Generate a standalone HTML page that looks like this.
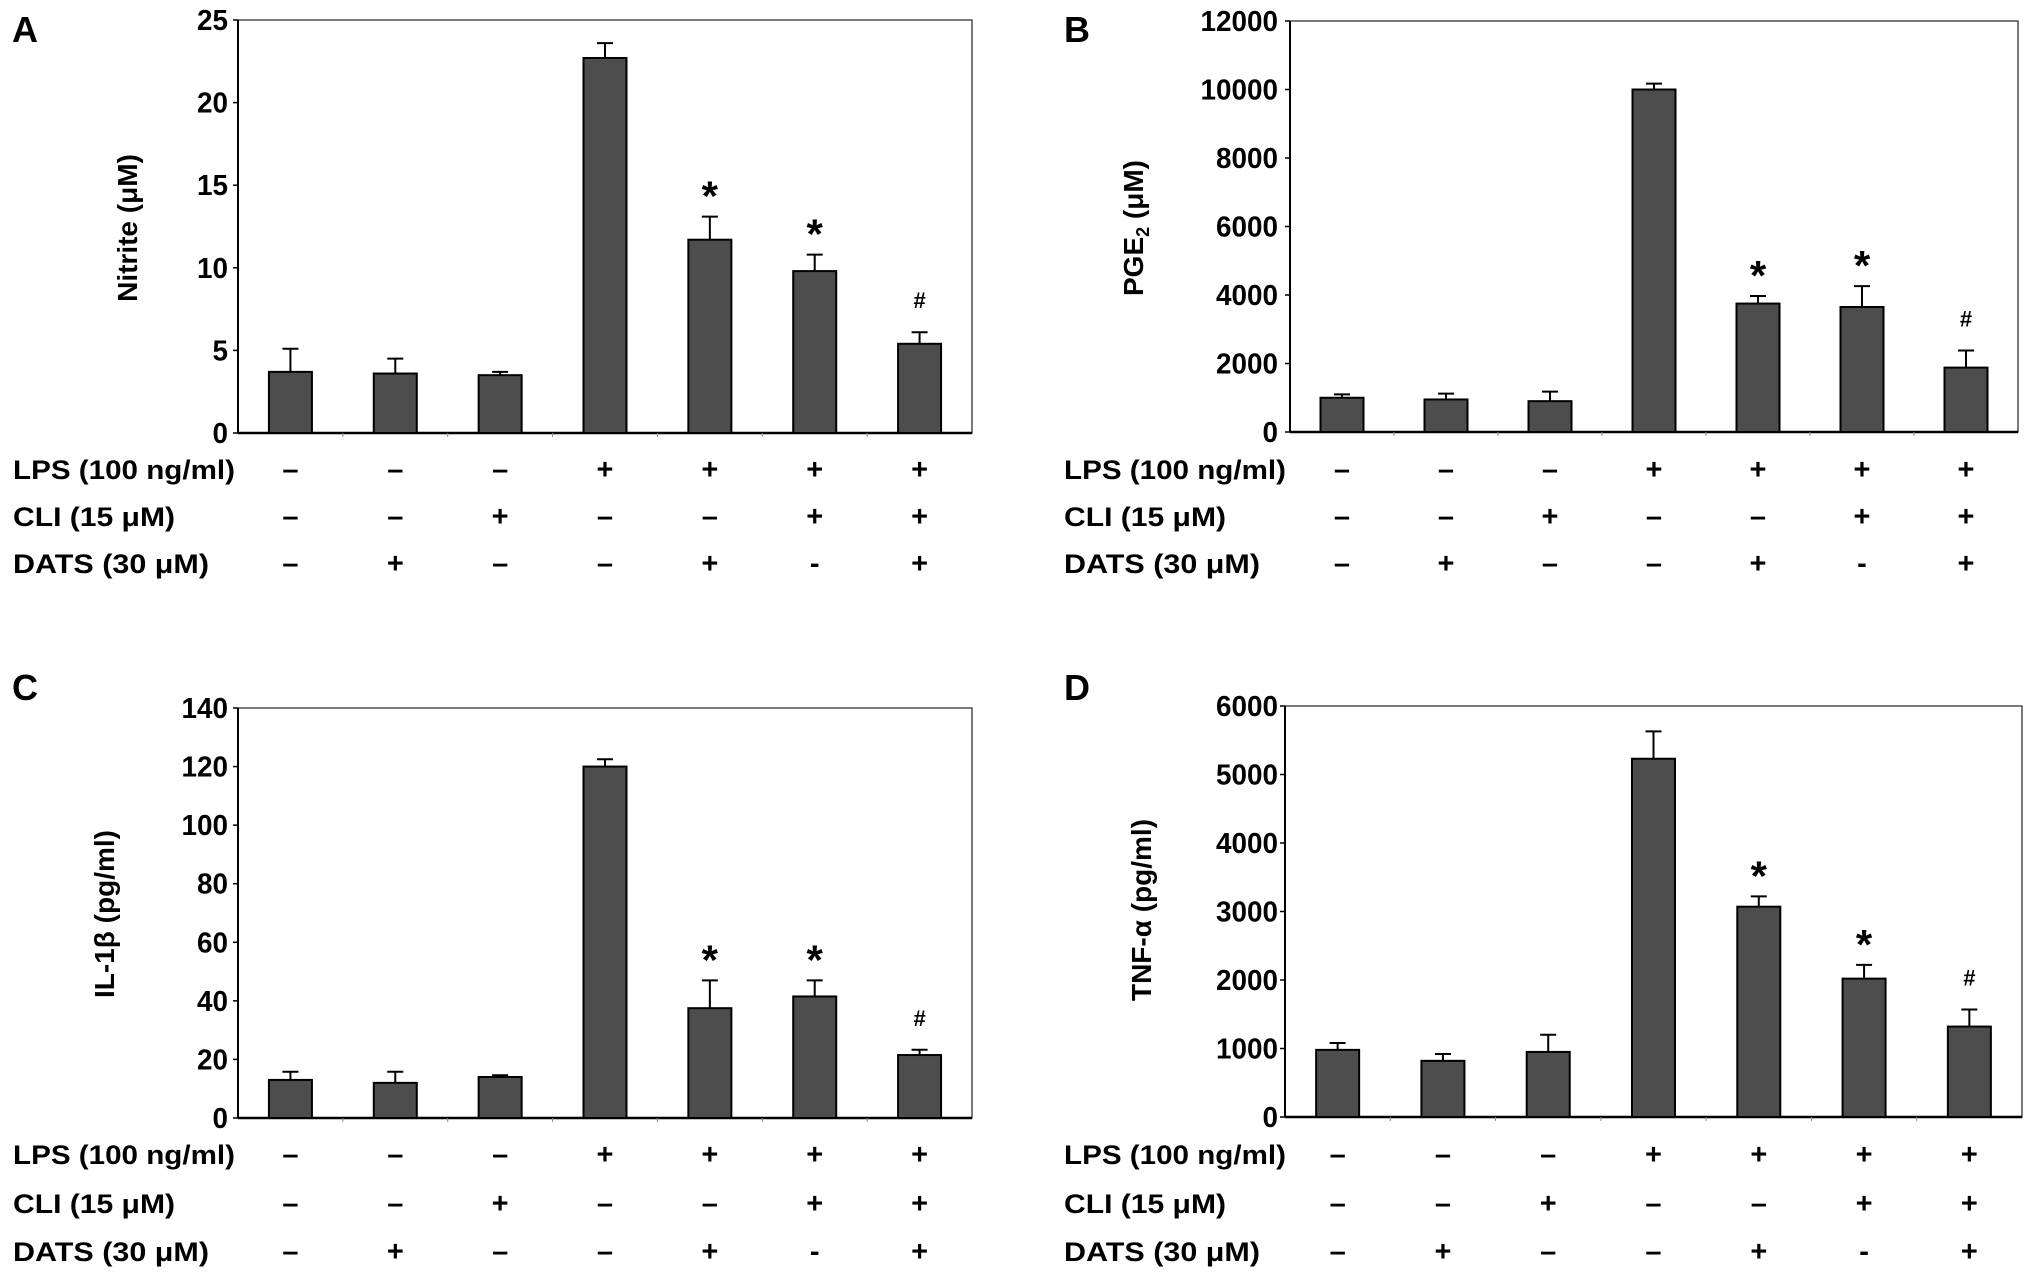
<!DOCTYPE html>
<html><head><meta charset="utf-8"><style>
html,body{margin:0;padding:0;background:#fff;}
svg{display:block;font-family:"Liberation Sans",Arial,sans-serif;font-weight:bold;}
</style></head><body>
<svg id="fig" width="2031" height="1279" viewBox="0 0 2031 1279" xmlns="http://www.w3.org/2000/svg"></svg>
<script>
const categories = ["1","2","3","4","5","6","7"];
const lpsRow  = ["–","–","–","+","+","+","+"];
const cliRow  = ["–","–","+","–","–","+","+"];
const datsRow = ["–","+","–","–","+","-","+"];
const marks   = ["","","","","*","*","#"];

const nitriteValues = [3.7,3.6,3.5,22.7,11.7,9.8,5.4];
const nitriteErrors = [1.4,0.9,0.2,0.9,1.4,1.0,0.7];
const nitriteTicks  = [0,5,10,15,20,25];

const pgeValues = [1000,950,900,10000,3750,3650,1880];
const pgeErrors = [100,170,280,170,220,610,500];
const pgeTicks  = [0,2000,4000,6000,8000,10000,12000];

const il1Values = [13,12,14,120,37.5,41.5,21.5];
const il1Errors = [2.8,3.8,0.6,2.5,9.5,5.5,1.8];
const il1Ticks  = [0,20,40,60,80,100,120,140];

const tnfValues = [980,820,950,5230,3070,2020,1320];
const tnfErrors = [100,100,250,400,150,200,250];
const tnfTicks  = [0,1000,2000,3000,4000,5000,6000];

const NS = "http://www.w3.org/2000/svg";
const svg = document.getElementById("fig");
function mk(tag, attrs, parent, text){
  const e = document.createElementNS(NS, tag);
  for (const k in attrs) e.setAttribute(k, attrs[k]);
  if (text !== undefined) e.textContent = text;
  (parent||svg).appendChild(e);
  return e;
}

function panel(cfg, values, errors, ticks){
  const g = mk("g", {});
  
  
  const L=cfg.l, R=cfg.r, T=cfg.t, B=cfg.b;
  const maxV = ticks[ticks.length-1];
  const y = v => B - (v/maxV)*(B-T);
  const bw = (R-L)/categories.length;
  const xc = i => L + (i+0.5)*bw;

  const letter = mk("text", {x:cfg.lx, y:cfg.ly, "font-size":36}, g, cfg.letter);
  
  

  const frame = mk("rect", {x:L, y:T, width:R-L, height:B-T, fill:"none", stroke:"#333", "stroke-width":1.3}, g);
  
  
  const yaxis = mk("line", {x1:L, y1:T, x2:L, y2:B, stroke:"#000", "stroke-width":2}, g);
  
  
  const xaxis = mk("line", {x1:L, y1:B, x2:R, y2:B, stroke:"#000", "stroke-width":2.5}, g);
  
  

  for (let i=1;i<categories.length;i++){
    const t = mk("line", {x1:L+i*bw, y1:B, x2:L+i*bw, y2:B+4, stroke:"#888", "stroke-width":1}, g);
    
    
  }

  ticks.forEach(v=>{
    const tl = mk("line", {x1:L-5, y1:y(v), x2:L, y2:y(v), stroke:"#000", "stroke-width":1.5}, g);
    
    
    const s = String(v);
    const tx = mk("text", {x:cfg.tickR, y:y(v)+10, "font-size":29, "text-anchor":"end",
      textLength:s.length*15.5, lengthAdjust:"spacingAndGlyphs"}, g, s);
    
    
  });

  const ttl = mk("text", {x:0, y:0, "font-size":28, "text-anchor":"middle",
    transform:`translate(${cfg.tx},${cfg.ty}) rotate(-90)`}, g);
  
  
  ttl.innerHTML = cfg.title;

  const bwid = 43;
  values.forEach((v,i)=>{
    const top = y(v+errors[i]);
    const eb = mk("path", {d:`M${xc(i)},${y(v)} V${top} M${xc(i)-8},${top} H${xc(i)+8}`, stroke:"#000", "stroke-width":2, fill:"none"}, g);
    
    
    const r = mk("rect", {x:xc(i)-bwid/2, y:y(v), width:bwid, height:B-y(v), fill:"#4d4d4d", stroke:"#000", "stroke-width":2}, g);
    
    
    if (marks[i]==="*"){
      const s = mk("text", {x:xc(i), y:top-6, "font-size":42, "text-anchor":"middle"}, g, "*");
      
      
    } else if (marks[i]==="#"){
      const s = mk("text", {x:xc(i), y:top-24, "font-size":22, "text-anchor":"middle"}, g, "#");
      
      
    }
  });

  const rows = [["LPS (100 ng/ml)", lpsRow, cfg.r1, 222],["CLI (15 μM)", cliRow, cfg.r2, 162],["DATS (30 μM)", datsRow, cfg.r3, 196]];
  rows.forEach(([lab, arr, ry, tw])=>{
    const t = mk("text", {x:cfg.rx, y:ry+10, "font-size":27, textLength:tw, lengthAdjust:"spacingAndGlyphs"}, g, lab);
    
    
    arr.forEach((s,i)=>{
      const c = mk("text", {x:xc(i), y:ry+10, "font-size":29, "text-anchor":"middle"}, g, s);
      
      
    });
  });
}

panel({name:"panel-a-nitrite", letter:"A", lx:12, ly:42, l:238, r:972, t:20, b:433, tickR:228,
  tx:137, ty:228, title:"Nitrite (μM)", rx:13, r1:469, r2:516, r3:563}, nitriteValues, nitriteErrors, nitriteTicks);
panel({name:"panel-b-pge2", letter:"B", lx:1064, ly:42, l:1290, r:2018, t:21, b:432, tickR:1278,
  tx:1143, ty:228, title:'PGE<tspan font-size="18" dy="6">2</tspan><tspan dy="-6"> (μM)</tspan>', rx:1064, r1:469, r2:516, r3:563}, pgeValues, pgeErrors, pgeTicks);
panel({name:"panel-c-il1b", letter:"C", lx:12, ly:700, l:238, r:972, t:708, b:1118, tickR:228,
  tx:114, ty:914, title:"IL-1β (pg/ml)", rx:13, r1:1154, r2:1203, r3:1251}, il1Values, il1Errors, il1Ticks);
panel({name:"panel-d-tnfa", letter:"D", lx:1064, ly:700, l:1285, r:2022, t:706, b:1117, tickR:1278,
  tx:1151, ty:910, title:"TNF-α (pg/ml)", rx:1064, r1:1154, r2:1203, r3:1251}, tnfValues, tnfErrors, tnfTicks);
</script>
</body></html>
